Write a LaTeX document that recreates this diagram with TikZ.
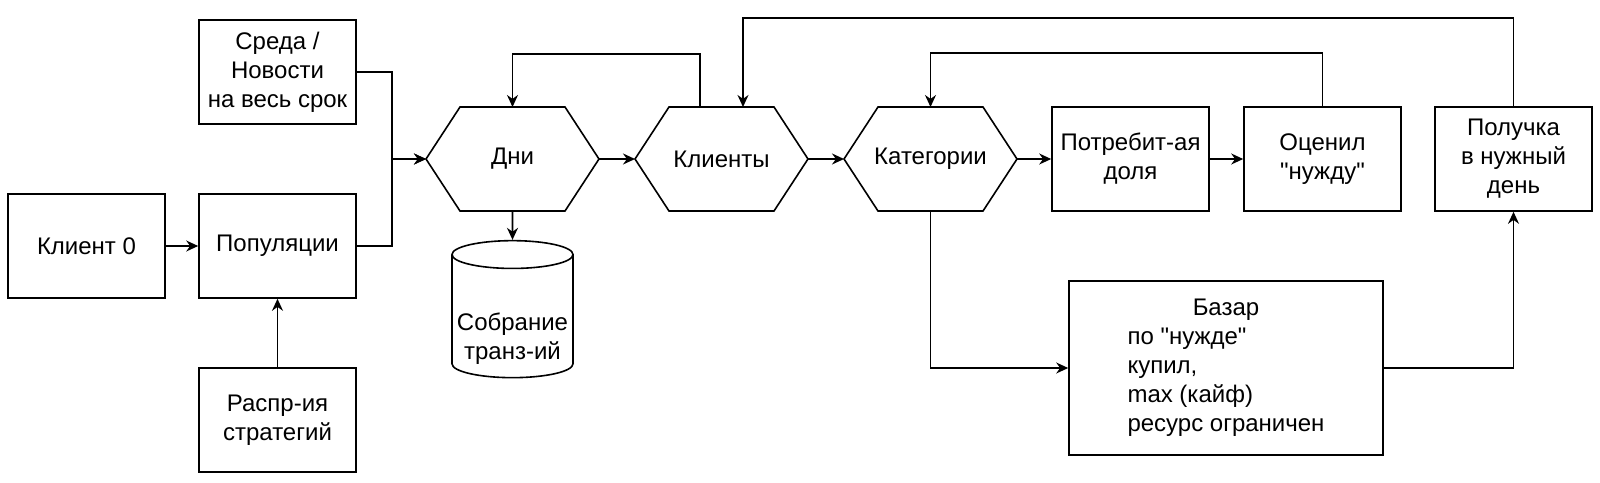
\documentclass[tikz,border=0pt]{standalone}
\usepackage{fontspec}
\setmainfont{Liberation Sans}
\usetikzlibrary{arrows.meta,shapes.geometric}
% straight double quote, kept out of the TeX ligature mapping
\newcommand\dq{\XeTeXglyph\XeTeXcharglyph"22\relax}

\begin{document}
\begin{tikzpicture}
    	[x=0.5pt, y=-0.5pt, line width=0.8pt, >={Stealth[length=6pt,width=5.5pt]},
    	 box/.style={draw, minimum width=78.5pt, minimum height=52pt, align=center, inner sep=1pt, font=\fontsize{12pt}{14.5pt}\selectfont},
    	 hexa/.style={minimum width=86.5pt, minimum height=52pt, inner sep=0pt, outer sep=0pt, font=\fontsize{12pt}{14.5pt}\selectfont},
    	 db/.style={draw, cylinder, shape border rotate=90, aspect=0.25, minimum width=60.5pt, minimum height=68.5pt, align=center, inner sep=0pt, font=\fontsize{12pt}{14.5pt}\selectfont}]
    	\useasboundingbox (0,0) rectangle (1600,482);

    	\node (sreda) at (277.5,72) [box] {Среда /\\Новости\\на весь срок};
    	\node (klient0) at (86.5,246) [box] {Клиент 0};
    	\node (popul) at (277.5,246) [box] {Популяции};
    	\node (raspr) at (277.5,420) [box] {Распр-ия\\стратегий};
    	\node (dni) at (512.5,159) [hexa] {Дни};
    	\node (sobranie) at (512.5,316.5) [db]
    		{\raisebox{-11.5pt}[\height][\depth]{\begin{tabular}{@{}c@{}}Собрание\\транз-ий\end{tabular}}};
    	\node (klienty) at (721.5,159) [hexa] {Клиенты};
    	\node (kateg) at (930.5,159) [hexa] {Категории};
    	\node (potreb) at (1130.5,159) [box] {Потребит-ая\\доля};
    	\node (ocenil) at (1322.5,159) [box] {Оценил\\\dq нужду\dq};
    	\node (poluchka) at (1513.5,159) [box] {Получка\\в нужный\\день};
    	\node (bazar) at (1226,368) [box, minimum width=157pt, minimum height=87pt]
    		{\begin{tabular}{@{}l@{}}\multicolumn{1}{@{}c@{}}{Базар}\\по \dq нужде\dq\\купил,\\max (кайф)\\ресурс ограничен\end{tabular}};

    	\foreach \h in {dni, klienty, kateg}
    		\draw (\h.west) -- ([xshift=17pt]\h.north west) -- ([xshift=-17pt]\h.north east)
    			-- (\h.east) -- ([xshift=-17pt]\h.south east) -- ([xshift=17pt]\h.south west) -- cycle;

    	\draw[->] (klient0) -- (popul);
    	\draw[->] (raspr) -- (popul);
    	\draw[->] (sreda.east) -- ++(35,0) |- (dni.west);
    	\draw[->] (popul.east) -- ++(35,0) |- (dni.west);
    	\draw[->] (dni.south) -- (sobranie.north);
    	\draw[->] (dni) -- (klienty);
    	\draw[->] (klienty) -- (kateg);
    	\draw[->] (kateg.east) -- (potreb.west);
    	\draw[->] (potreb) -- (ocenil);

    	% feedback loops over the top
    	\draw[->] ([xshift=-10.75pt]klienty.north) -- ++(0,-53) -| (dni.north);
    	\draw[->] (poluchka.north) -- ++(0,-88) -| ([xshift=10.75pt]klienty.north);
    	\draw[->] (ocenil.north) -- ++(0,-53) -| (kateg.north);

    	\draw[->] (kateg.south) |- (bazar.west);
    	\draw[->] (bazar.east) -| (poluchka.south);
\end{tikzpicture}
\end{document}
